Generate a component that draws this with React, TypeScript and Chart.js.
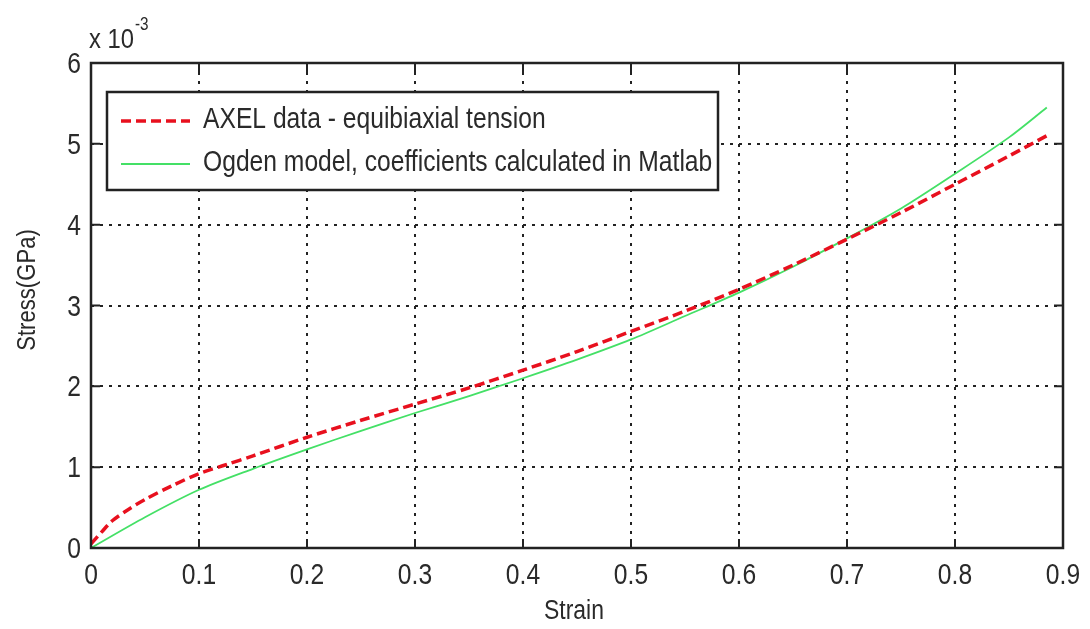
import React, { useEffect, useRef } from "react";
import { Chart, registerables } from "chart.js";

Chart.register(...registerables);

const axelStrain = [0, 0.01, 0.02, 0.035, 0.05, 0.075, 0.1, 0.125, 0.15, 0.2, 0.25, 0.3, 0.35, 0.4, 0.45, 0.5, 0.55, 0.6, 0.65, 0.7, 0.75, 0.8, 0.85, 0.885];
const axelStress = [0.05, 0.2, 0.34, 0.48, 0.6, 0.77, 0.92, 1.03, 1.14, 1.37, 1.58, 1.78, 1.98, 2.2, 2.43, 2.68, 2.93, 3.2, 3.5, 3.82, 4.15, 4.5, 4.85, 5.1];
const ogdenStrain = [0, 0.05, 0.1, 0.15, 0.2, 0.25, 0.3, 0.35, 0.4, 0.45, 0.5, 0.55, 0.6, 0.65, 0.7, 0.75, 0.8, 0.85, 0.885];
const ogdenStress = [0, 0.38, 0.72, 0.98, 1.22, 1.45, 1.67, 1.88, 2.1, 2.33, 2.58, 2.87, 3.16, 3.48, 3.83, 4.2, 4.63, 5.08, 5.45];
const seriesLabels = ["AXEL data - equibiaxial tension", "Ogden model, coefficients calculated in Matlab"];
const xTitle = "Strain";
const yTitle = "Stress(GPa)";
const exponentBase = "x 10";
const exponentPower = "-3";
const FONT = "'Liberation Sans', Arial, sans-serif";
const SQUEEZE = 0.85;

const xTickFmt = (v: number) => (Number(v) === 0 ? "0" : Number(v).toFixed(1));
const yTickFmt = (v: number) => String(Math.round(v));

function squeezed(ctx: CanvasRenderingContext2D, text: string, x: number, y: number, align: CanvasTextAlign, base: CanvasTextBaseline, rot = 0) {
  ctx.save();
  ctx.translate(x, y);
  if (rot) ctx.rotate(rot);
  ctx.scale(SQUEEZE, 1);
  ctx.textAlign = align;
  ctx.textBaseline = base;
  ctx.fillText(text, 0, 0);
  ctx.restore();
}

export default function App() {
  const ref = useRef<HTMLCanvasElement | null>(null);
  useEffect(() => {
    document.body.style.margin = "0";
    const canvas = ref.current!;
    const framePlugin = {
      id: "frame",
      afterDraw(chart: any) {
        const { ctx, chartArea: a, scales } = chart;
        ctx.save();
        ctx.strokeStyle = "#222";
        ctx.lineWidth = 2.5;
        ctx.setLineDash([]);
        ctx.strokeRect(a.left, a.top, a.right - a.left, a.bottom - a.top);
        ctx.lineWidth = 2;
        const xs = scales.x, ys = scales.y;
        ctx.fillStyle = "#2a2a2a";
        ctx.font = `29px ${FONT}`;
        xs.ticks.forEach((t: any) => {
          const px = xs.getPixelForValue(t.value);
          ctx.beginPath();
          ctx.moveTo(px, a.bottom); ctx.lineTo(px, a.bottom - 9);
          ctx.moveTo(px, a.top); ctx.lineTo(px, a.top + 9);
          ctx.stroke();
          squeezed(ctx, xTickFmt(t.value), px, a.bottom + 36, "center", "alphabetic");
        });
        ys.ticks.forEach((t: any) => {
          const py = ys.getPixelForValue(t.value);
          ctx.beginPath();
          ctx.moveTo(a.left, py); ctx.lineTo(a.left + 9, py);
          ctx.moveTo(a.right, py); ctx.lineTo(a.right - 9, py);
          ctx.stroke();
          squeezed(ctx, yTickFmt(t.value), a.left - 10, py + 10, "right", "alphabetic");
        });
        ctx.font = `28px ${FONT}`;
        squeezed(ctx, exponentBase, 89, 48, "left", "alphabetic");
        ctx.font = `18px ${FONT}`;
        squeezed(ctx, exponentPower, 135, 30, "left", "alphabetic");
        ctx.font = `27px ${FONT}`;
        squeezed(ctx, xTitle, 574, 619, "center", "alphabetic");
        ctx.font = `26px ${FONT}`;
        squeezed(ctx, yTitle, 35, 290, "center", "alphabetic", -Math.PI / 2);
        const lx = 107, ly = 92, lw = 611, lh = 98;
        ctx.fillStyle = "#fff";
        ctx.fillRect(lx, ly, lw, lh);
        ctx.strokeStyle = "#222";
        ctx.lineWidth = 2.5;
        ctx.strokeRect(lx, ly, lw, lh);
        const rows = [ly + 29, ly + 72];
        chart.data.datasets.forEach((ds: any, i: number) => {
          ctx.beginPath();
          ctx.strokeStyle = ds.borderColor;
          ctx.lineWidth = ds.borderWidth;
          ctx.setLineDash(ds.borderDash || []);
          ctx.moveTo(121, rows[i]);
          ctx.lineTo(190, rows[i]);
          ctx.stroke();
          ctx.setLineDash([]);
          ctx.fillStyle = "#2a2a2a";
          ctx.font = `29px ${FONT}`;
          squeezed(ctx, ds.label, 203, rows[i] + 7, "left", "alphabetic");
        });
        ctx.restore();
      },
    };
    const chart = new Chart(canvas, {
      type: "line",
      data: {
        datasets: [
          {
            label: seriesLabels[0],
            data: axelStrain.map((x, i) => ({ x, y: axelStress[i] })),
            borderColor: "#e8101e",
            borderWidth: 3.5,
            borderDash: [10, 5],
            pointRadius: 0,
            tension: 0.3,
          },
          {
            label: seriesLabels[1],
            data: ogdenStrain.map((x, i) => ({ x, y: ogdenStress[i] })),
            borderColor: "#44e066",
            borderWidth: 1.8,
            pointRadius: 0,
            tension: 0.3,
          },
        ],
      },
      options: {
        animation: false,
        responsive: false,
        devicePixelRatio: 1,
        layout: { padding: { top: 63, right: 27, left: 0, bottom: 0 } },
        plugins: { legend: { display: false }, tooltip: { enabled: false } },
        scales: {
          x: {
            type: "linear",
            min: 0,
            max: 0.9,
            afterFit: (s: any) => { s.height = 81; },
            ticks: { stepSize: 0.1, display: false, maxRotation: 0 },
            grid: { color: "#222", lineWidth: 2, drawTicks: false },
            border: { display: false, dash: [3, 6] },
          },
          y: {
            min: 0,
            max: 6,
            afterFit: (s: any) => { s.width = 91; },
            ticks: { stepSize: 1, display: false },
            grid: { color: "#222", lineWidth: 2, drawTicks: false },
            border: { display: false, dash: [3, 6] },
          },
        },
      },
      plugins: [framePlugin],
    } as any);
    return () => chart.destroy();
  }, []);
  return (
    <div style={{ width: 1090, height: 629, background: "#fff" }}>
      <canvas ref={ref} width={1090} height={629} style={{ display: "block" }} />
    </div>
  );
}
